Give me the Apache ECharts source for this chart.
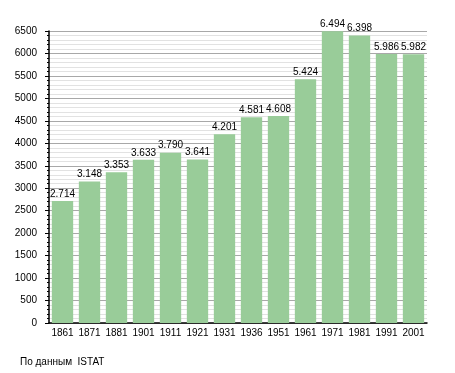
<!DOCTYPE html>
<html><head><meta charset="utf-8">
<script src="https://cdn.jsdelivr.net/npm/echarts@6/dist/echarts.min.js"></script>
<style>html,body{margin:0;padding:0;background:#fff}#c{width:455px;height:373px}</style>
</head><body><div id="c"></div>
<script>
const years = ['1861','1871','1881','1901','1911','1921','1931','1936','1951','1961','1971','1981','1991','2001'];
const population = [2714,3148,3353,3633,3790,3641,4201,4581,4608,5424,6494,6398,5986,5982];
const sourceNote = 'По данным  ISTAT';

const chart = echarts.init(document.getElementById('c'), null, {renderer:'canvas'});
const font = 'Liberation Sans, Arial, sans-serif';
chart.setOption({
  animation:false,
  backgroundColor:'#fff',
  grid:{left:49, right:28, top:31, bottom:50, containLabel:false},
  graphic:[{type:'text', left:20, top:357, style:{text:sourceNote, font:'10px '+font, fill:'#000'}}],
  xAxis:{
    type:'category', data:years,
    axisLine:{lineStyle:{color:'#000', width:1.5}},
    axisTick:{show:false},
    axisLabel:{color:'#000', fontFamily:font, fontSize:10, margin:5, interval:0}
  },
  yAxis:{
    type:'value', min:0, max:6500, interval:500,
    axisLine:{show:true, lineStyle:{color:'#000', width:1.5}},
    axisTick:{show:true, length:4, lineStyle:{color:'#000'}},
    minorTick:{show:true, splitNumber:5, length:2, lineStyle:{color:'#000'}},
    splitLine:{lineStyle:{color:'#a8a8a8', width:1}},
    minorSplitLine:{show:true, lineStyle:{color:'#e2e2e2', width:1}},
    axisLabel:{color:'#000', fontFamily:font, fontSize:10, margin:12, formatter:v=>String(v)}
  },
  series:[{
    type:'bar', data:population, barCategoryGap:'21%',
    itemStyle:{color:'#99cc99'},
    label:{show:true, position:'top', distance:2, color:'#000', fontFamily:font, fontSize:10,
      formatter:p=>{const v=p.value; return Math.floor(v/1000)+'.'+String(v%1000).padStart(3,'0');}}
  }]
});
</script></body></html>
